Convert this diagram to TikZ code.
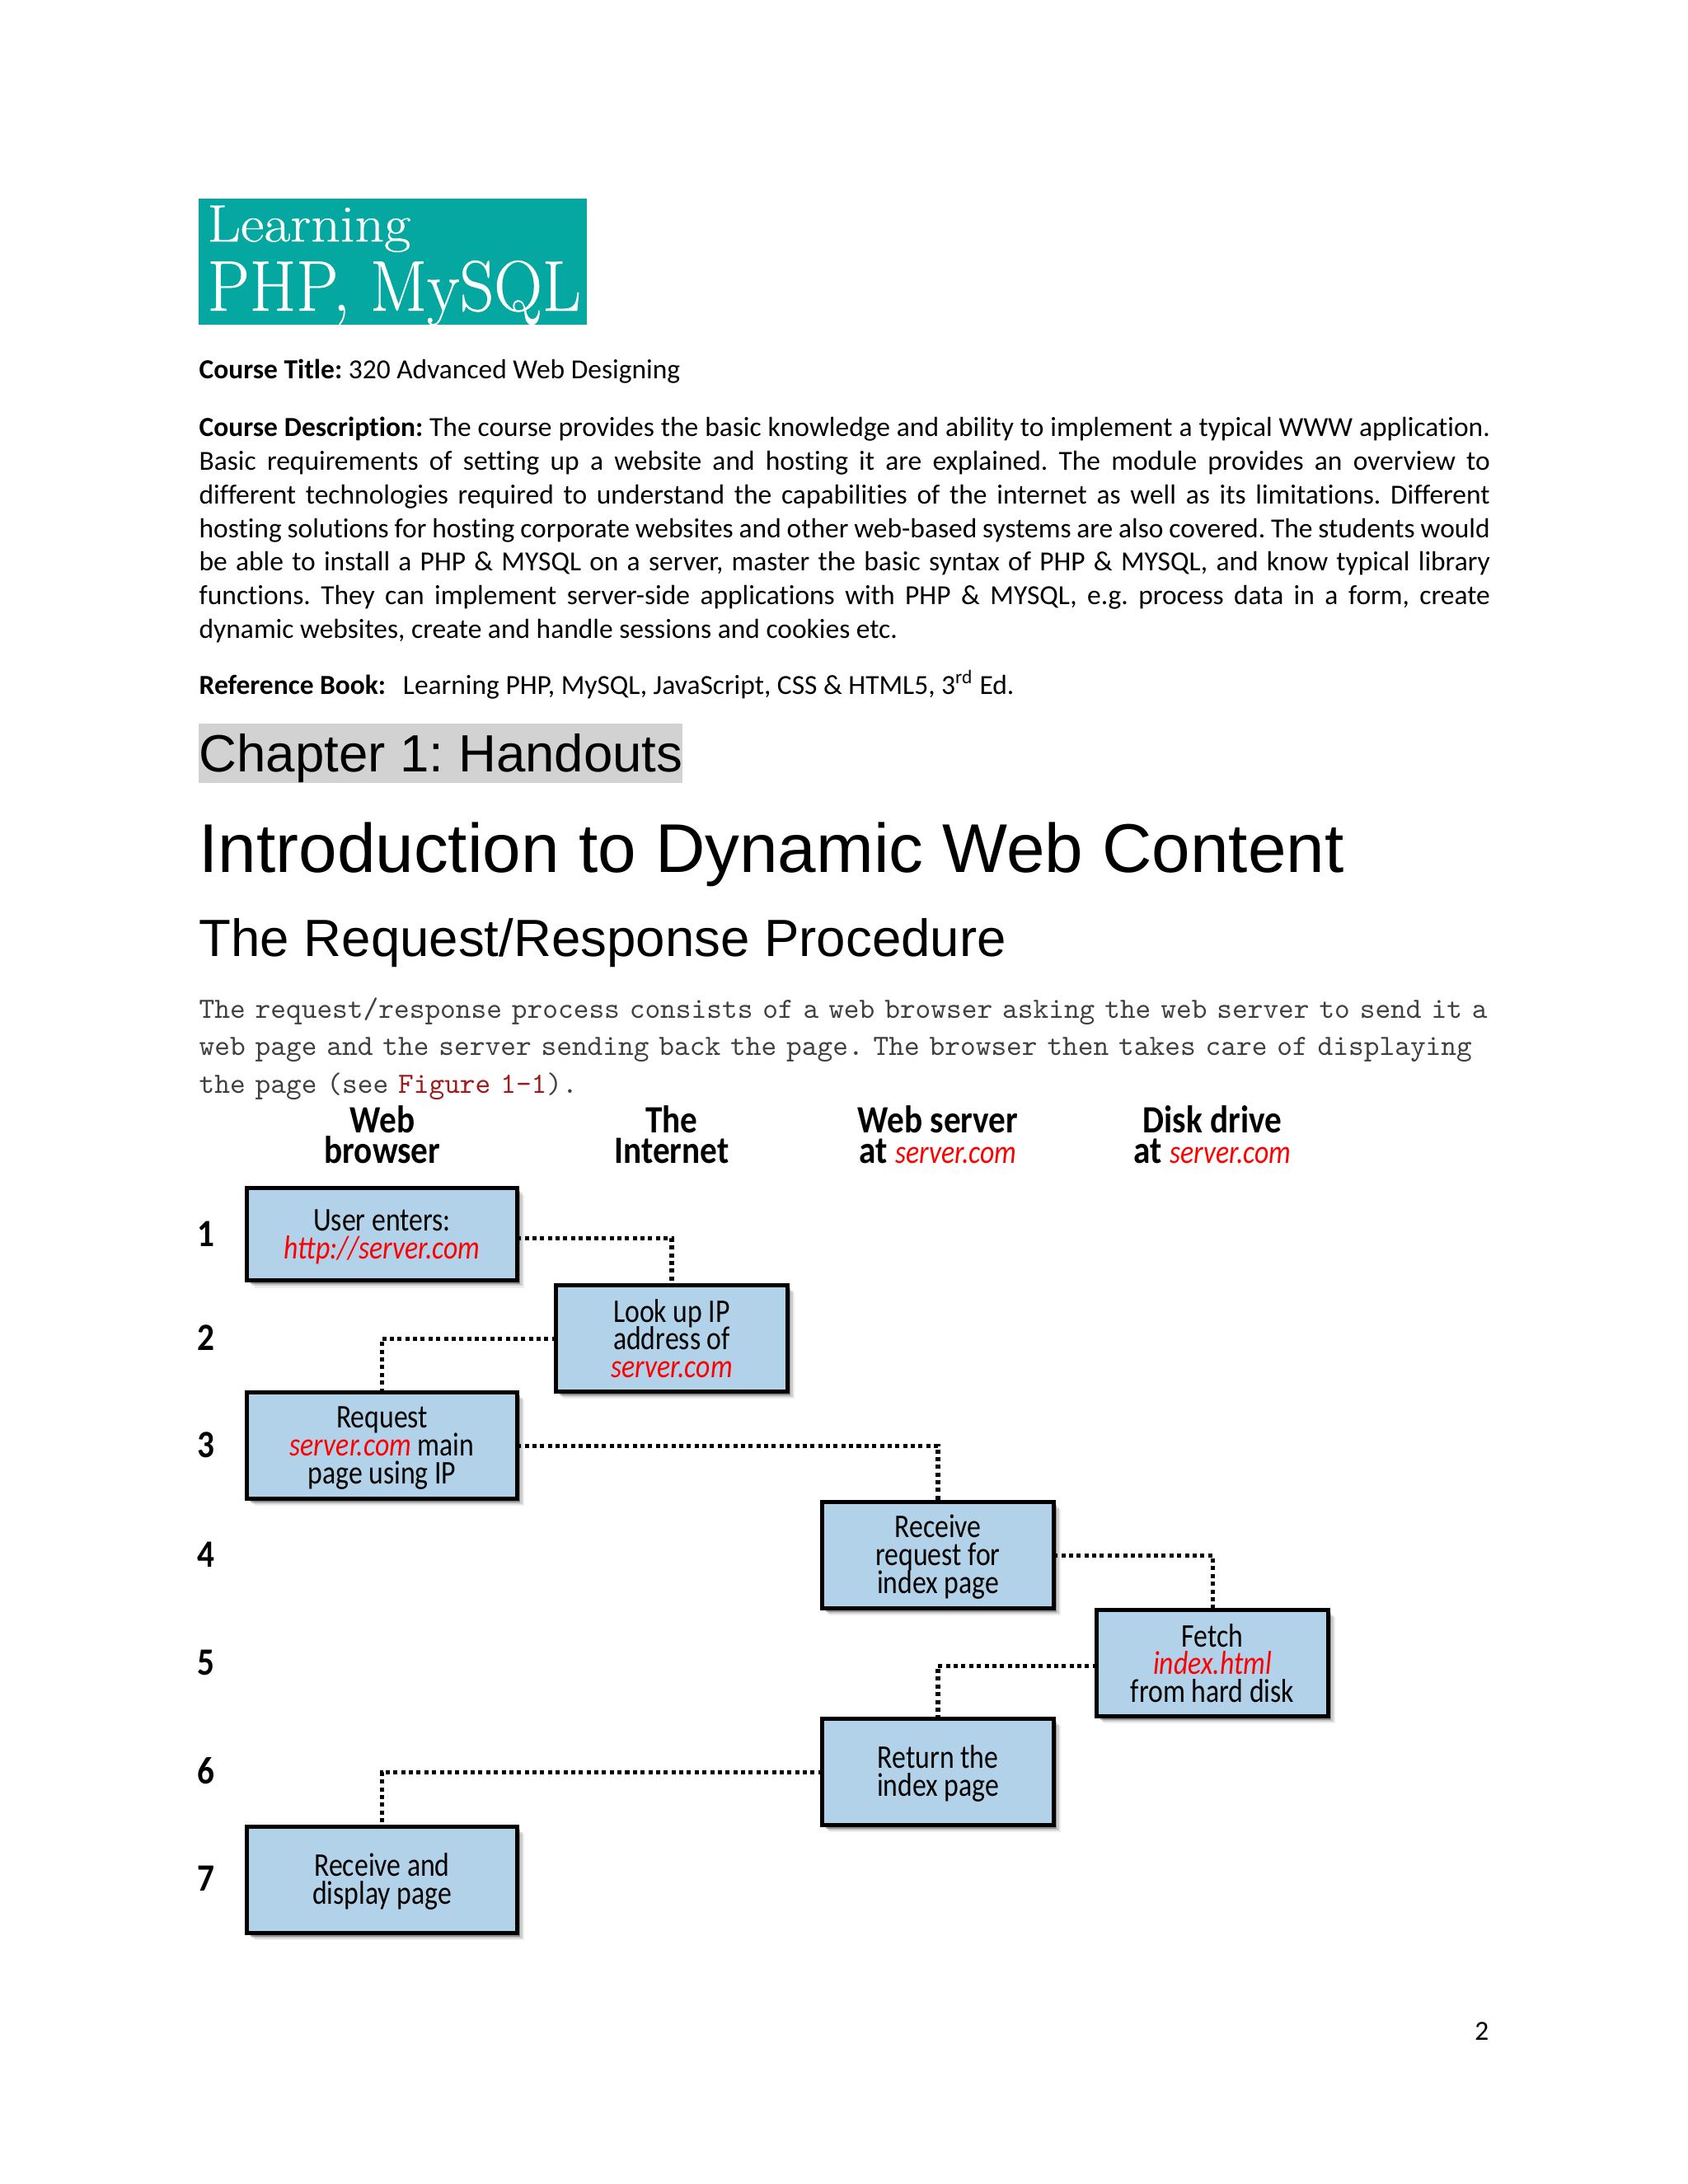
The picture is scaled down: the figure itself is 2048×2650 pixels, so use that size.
\documentclass[tikz,border=0pt]{standalone}
\usepackage{fontspec}
\usepackage{xcolor}
\setmainfont[Ligatures=NoCommon]{Carlito}
\newfontfamily\arialfont{Liberation Sans}
\newfontfamily\boxfont[FakeStretch=0.84]{Carlito}
\newfontfamily\headfont[FakeStretch=0.88]{Carlito}
\newfontfamily\logosmall[FakeStretch=1.1,FakeBold=0.5]{Latin Modern Roman}
\newfontfamily\logofont[FakeStretch=0.936,FakeBold=0.5]{Latin Modern Roman}
\usetikzlibrary{shadows}
\definecolor{boxblue}{HTML}{B1D2E8}
\definecolor{logoteal}{HTML}{05A8A0}
\definecolor{figred}{HTML}{9C1C1C}
\tikzset{
  stepbox/.style={draw=black,fill=boxblue,line width=1.5pt,align=center,inner sep=0pt,outer sep=0pt,
    font=\boxfont\fontsize{12}{10.1}\selectfont,text=black,
    drop shadow={shadow xshift=2.6pt,shadow yshift=-2.6pt,opacity=0.07,fill=black},
    drop shadow={shadow xshift=1.9pt,shadow yshift=-1.9pt,opacity=0.14,fill=black},
    drop shadow={shadow xshift=1.2pt,shadow yshift=-1.2pt,opacity=0.3,fill=black}},
  widebox/.style={stepbox,minimum width=97.8pt},
  slimbox/.style={stepbox,minimum width=83.8pt},
  link/.style={line width=1.5pt,dash pattern=on 1.5pt off 1.3pt},
  colhead/.style={align=center,font=\headfont\bfseries\fontsize{14}{11.2}\selectfont},
  rownum/.style={font=\headfont\bfseries\fontsize{14}{14}\selectfont},
  para/.style={anchor=north west,inner sep=0pt,text width=468pt,align=justify,font=\fontsize{10}{12.2}\selectfont},
  line/.style={anchor=base west,inner sep=0pt,font=\fontsize{10}{12.2}\selectfont}
}
\newcommand{\srv}[1]{\textcolor{red}{\itshape #1}}
\newcommand{\srvhead}[1]{{\boxfont\mdseries\fontsize{12}{11.2}\selectfont\srv{#1}}}
\newcommand{\topgap}{\rule{0pt}{9.6pt}}
\frenchspacing
\begin{document}
\normallineskiplimit=-6pt
\lineskiplimit=-6pt
\begin{tikzpicture}[x=0.2988pt,y=-0.2988pt]
\useasboundingbox (0,0) rectangle (2048,2650);
\fill[logoteal] (241,241) rectangle (712,394);
\node[anchor=base west,inner sep=0pt,text=white,font=\logosmall\fontsize{19}{19}\selectfont] (lg1) at (251,293) {Learning};
\node[anchor=base west,inner sep=0pt,text=white,font=\logofont\fontsize{26}{26}\selectfont] (lg2) at (251,377) {PHP, MySQL};
\node[line] (title) at (241,459) {\textbf{Course Title:} 320 Advanced Web Designing};
\node[para] (desc) at (241,505.5) {\textbf{Course Description:} The course provides the basic knowledge and ability to implement a typical WWW application.\linebreak
Basic requirements of setting up a website and hosting it are explained. The module provides an overview to\linebreak
different technologies required to understand the capabilities of the internet as well as its limitations. Different\linebreak
hosting solutions for hosting corporate websites and other web-based systems are also covered. The students would\linebreak
be able to install a PHP \& MYSQL on a server, master the basic syntax of PHP \& MYSQL, and know typical library\linebreak
functions. They can implement server-side applications with PHP \& MYSQL, e.g. process data in a form, create\linebreak
dynamic websites, create and handle sessions and cookies etc.};
\node[line] (book) at (241,842) {\textbf{Reference Book:}\ \ \,Learning PHP, MySQL, JavaScript, CSS \& HTML5, 3\textsuperscript{rd} Ed.};
\fill[gray!35] (241,878) rectangle (828,950);
\node[anchor=base west,inner sep=0pt,font=\arialfont\fontsize{19}{19}\selectfont] (chap) at (241,936) {Chapter 1: Handouts};
\node[anchor=base west,inner sep=0pt,font=\arialfont\fontsize{25}{25}\selectfont] (head) at (241,1058) {Introduction to Dynamic Web Content};
\node[anchor=base west,inner sep=0pt,font=\arialfont\fontsize{19}{19}\selectfont] (sub) at (241,1160) {The Request/Response Procedure};
\node[anchor=north west,inner sep=0pt,text width=480pt,font=\ttfamily\fontsize{10.65}{13.6}\selectfont,text=black!75] (intro) at (241,1210) {The request/response process consists of a web browser asking the web server to send it a\\
web page and the server sending back the page. The browser then takes care of displaying\\
the page (see \textcolor{figred}{Figure 1-1}).};
\node[colhead] (hweb) at (464,1376.5) {Web\\browser};
\node[colhead] (hnet) at (815,1376.5) {The\\Internet};
\node[colhead] (hsrv) at (1138,1376.5) {Web server\\at \srvhead{server.com}};
\node[colhead] (hdsk) at (1471,1376.5) {Disk drive\\at \srvhead{server.com}};
\node[rownum] (r1) at (250,1497) {1};
\node[rownum] (r2) at (250,1623) {2};
\node[rownum] (r3) at (250,1753) {3};
\node[rownum] (r4) at (250,1886) {4};
\node[rownum] (r5) at (250,2017) {5};
\node[rownum] (r6) at (250,2149) {6};
\node[rownum] (r7) at (250,2279) {7};
\node[widebox,minimum height=33.7pt] (b1) at (463.5,1497.5) {\topgap User enters:\\\srv{http://server.com}};
\node[slimbox,minimum height=38.6pt] (b2) at (815,1624) {Look up IP\\address of\\\srv{server.com}};
\node[widebox,minimum height=38.6pt] (b3) at (463.5,1754) {\topgap Request\\\srv{server.com} main\\page using IP};
\node[slimbox,minimum height=38.6pt] (b4) at (1138,1887) {\topgap Receive\\request for\\index page};
\node[slimbox,minimum height=38.6pt] (b5) at (1471,2018) {Fetch\\\srv{index.html}\\from hard disk};
\node[slimbox,minimum height=38.6pt] (b6) at (1138,2150) {\topgap Return the\\index page};
\node[widebox,minimum height=38.6pt] (b7) at (463.5,2281) {\topgap Receive and\\display page};
\draw[link] ([yshift=-1.4pt]b1.east) -| (b2.north);
\draw[link] (b2.west) -| (b3.north);
\draw[link] (b3.east) -| (b4.north);
\draw[link] (b4.east) -| (b5.north);
\draw[link] ([yshift=-0.9pt]b5.west) -| (b6.north);
\draw[link] (b6.west) -| (b7.north);
\node[anchor=base east,inner sep=0pt,font=\fontsize{10}{12}\selectfont] (pg) at (1807,2475) {2};
\end{tikzpicture}
\end{document}
